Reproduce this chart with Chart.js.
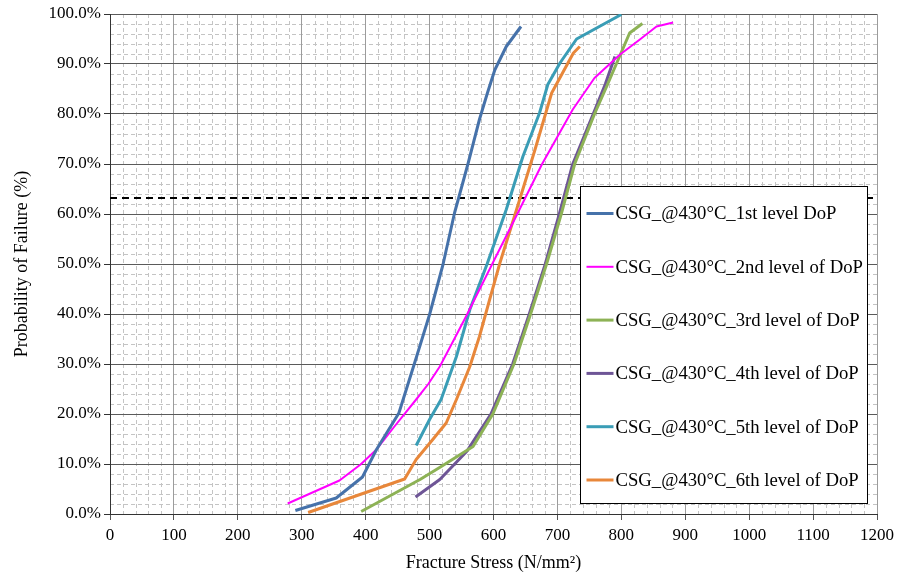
<!DOCTYPE html>
<html><head><meta charset="utf-8">
<script src="https://cdn.jsdelivr.net/npm/chart.js@4.4.0/dist/chart.umd.min.js"></script>
<style>html,body{margin:0;padding:0;background:#fff;}#wrap{width:909px;height:580px;}</style>
</head><body><div id="wrap"><canvas id="c" width="909" height="580"></canvas></div>
<script>
// ---- data ----
const seriesLabels = [
  "CSG_@430°C_1st level DoP",
  "CSG_@430°C_2nd level of DoP",
  "CSG_@430°C_3rd level of DoP",
  "CSG_@430°C_4th level of DoP",
  "CSG_@430°C_5th level of DoP",
  "CSG_@430°C_6th level of DoP"
];
const stress1 = [290,354,395,417,452,479,500,521,539,560,578,590,602,620,643];
const prob1   = [0.7,3.2,7.4,12.9,20.2,31.2,39.9,49.9,60.2,70,78.9,84,88.8,93.5,97.5];
const stress2 = [278,359,392,417,445,479,498,516,537,559,598,638,676,724,758,798,829,855,881];
const prob2   = [2.1,6.7,9.9,12.9,17.5,22.9,26.0,29.5,34.6,40,50,60.2,70,80.9,87.2,91.9,94.9,97.5,98.3];
const stress3 = [393,485,517,568,599,632,658,683,706,727,758,777,813,833];
const prob3   = [0.5,6.9,9.4,13.5,20,30,40,50,60,70,80,85.5,96.2,98.1];
const stress4 = [478,516,558,596,630,656,681,703,724,756,775,790];
const prob4   = [3.4,6.9,12.5,20,30,40,50,60,70,80,86,91.5];
const stress5 = [479,500,518,542,563,590,620,646,672,685,704,730,800];
const prob5   = [13.7,18.9,22.9,31.5,40.9,50,60.9,71.5,80.2,85.9,90.2,95,99.9];
const stress6 = [310,461,479,505,526,542,563,578,594,610,641,665,691,725,735];
const prob6   = [0.3,7,10.9,14.9,18.2,22.9,29.5,35.5,42.9,50.2,62.9,72.9,84.2,92.2,93.5];
const refLevel = 63.2;          // dashed characteristic-life line (%)
const xTicks = [0,100,200,300,400,500,600,700,800,900,1000,1100,1200];
const yTicks = [0,10,20,30,40,50,60,70,80,90,100];

const colors = ['#4672AA','#FF00FF','#8DB255','#6E5596','#3A9DB6','#E8873A'];
const widths = [3,2,3,3,3,3];
const xs = [stress1,stress2,stress3,stress4,stress5,stress6];
const ys = [prob1,prob2,prob3,prob4,prob5,prob6];

const FONT = "'Liberation Serif','Times New Roman',serif";

const datasets = seriesLabels.map((lab,i)=>({
  label: lab,
  data: xs[i].map((x,j)=>({x:x,y:ys[i][j]})),
  borderColor: colors[i],
  backgroundColor: colors[i],
  borderWidth: widths[i],
  borderJoinStyle: 'round',
  pointRadius: 0,
  tension: 0,
  fill: false,
  order: 1
}));
datasets.push({
  label: 'ref',
  data: [{x:xTicks[0],y:refLevel},{x:xTicks[xTicks.length-1],y:refLevel}],
  borderColor:'#000', borderWidth:2, borderDash:[7,5], pointRadius:0, fill:false, order: 2
});

const minorGrid = {
  id:'minorGrid',
  beforeDraw(chart){
    const ctx = chart.ctx, ca = chart.chartArea, sx = chart.scales.x, sy = chart.scales.y;
    ctx.save();
    ctx.strokeStyle = '#c4c4c4'; ctx.lineWidth = 1; ctx.setLineDash([4,3]);
    for (let v = 0; v <= 1200; v += 20) {
      if (v % 100 === 0) continue;
      const px = Math.round(sx.getPixelForValue(v)) + 0.5;
      ctx.beginPath(); ctx.moveTo(px, ca.top); ctx.lineTo(px, ca.bottom); ctx.stroke();
    }
    for (let v = 0; v <= 100; v += 2) {
      if (v % 10 === 0) continue;
      const py = Math.round(sy.getPixelForValue(v)) + 0.5;
      ctx.beginPath(); ctx.moveTo(ca.left, py); ctx.lineTo(ca.right, py); ctx.stroke();
    }
    ctx.restore();
  }
};

const legendBox = {
  id:'legendBox',
  afterDraw(chart){
    const ctx = chart.ctx, ca = chart.chartArea;
    const bx = Math.round(ca.right - 297) + 0.5, by = Math.round(ca.bottom - 328) + 0.5;
    const bw = 287, bh = 317;
    ctx.save();
    ctx.setLineDash([]);
    ctx.fillStyle = '#fff'; ctx.fillRect(bx, by, bw, bh);
    ctx.strokeStyle = '#000'; ctx.lineWidth = 1; ctx.strokeRect(bx, by, bw, bh);
    ctx.font = '18.7px ' + FONT; ctx.fillStyle = '#000'; ctx.textBaseline = 'middle'; ctx.textAlign = 'left';
    seriesLabels.forEach((lab,i)=>{
      const cy = by + 27 + i*53.3;
      ctx.strokeStyle = colors[i]; ctx.lineWidth = widths[i];
      ctx.beginPath(); ctx.moveTo(bx+6, cy); ctx.lineTo(bx+33, cy); ctx.stroke();
      ctx.fillText(lab, bx+35, cy+1);
    });
    ctx.restore();
  }
};

new Chart(document.getElementById('c'), {
  type:'line',
  data:{datasets},
  options:{
    responsive:false, animation:false, devicePixelRatio:1,
    layout:{padding:{top:14,right:32,left:0,bottom:0}},
    plugins:{legend:{display:false}, tooltip:{enabled:false}},
    scales:{
      x:{
        type:'linear', min:0, max:1200,
        afterBuildTicks(s){ s.ticks = xTicks.map(v=>({value:v})); },
        afterFit(s){ s.height = 66; },
        ticks:{ font:{family:FONT,size:17}, color:'#000', padding:5, maxRotation:0, autoSkip:false, callback:v=>String(v) },
        grid:{ color:'#9c9c9c', lineWidth:1, tickLength:6, tickColor:'#555' },
        border:{ color:'#333', width:1 },
        title:{ display:true, text:'Fracture Stress (N/mm²)', font:{family:FONT,size:18}, color:'#000', padding:{top:0,bottom:6} }
      },
      y:{
        type:'linear', min:0, max:100,
        afterBuildTicks(s){ s.ticks = yTicks.map(v=>({value:v})); },
        afterFit(s){ s.width = 110; },
        ticks:{ font:{family:FONT,size:17}, color:'#000', padding:3, callback:v=>v.toFixed(1)+'%' },
        grid:{ color:'#5a5a5a', lineWidth:1, tickLength:6, tickColor:'#333' },
        border:{ color:'#333', width:1 },
        title:{ display:true, text:'Probability of Failure (%)', font:{family:FONT,size:18}, color:'#000', padding:{top:11,bottom:0} }
      }
    }
  },
  plugins:[minorGrid, legendBox]
});
</script>
</body></html>
